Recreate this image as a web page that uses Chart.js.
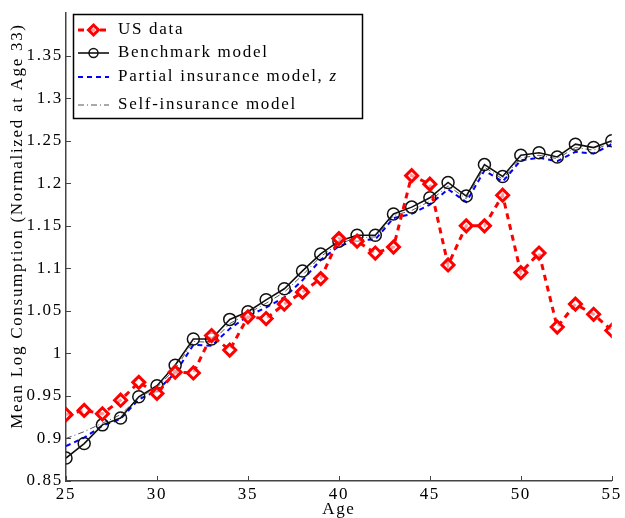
<!DOCTYPE html>
<html>
<head>
<meta charset="utf-8">
<script src="https://cdn.jsdelivr.net/npm/chart.js@4.4.1/dist/chart.umd.min.js"></script>
<style>
html,body{margin:0;padding:0;background:#fff;}
#wrap{width:625px;height:518px;position:relative;}
</style>
</head>
<body>
<div id="wrap"><canvas id="c" width="625" height="518"></canvas></div>
<script>
const ages = [25,26,27,28,29,30,31,32,33,34,35,36,37,38,39,40,41,42,43,44,45,46,47,48,49,50,51,52,53,54,55];
const usData = [0.928,0.933,0.929,0.945,0.966,0.953,0.978,0.977,1.021,1.004,1.043,1.041,1.058,1.072,1.088,1.135,1.132,1.118,1.125,1.209,1.199,1.104,1.150,1.150,1.186,1.095,1.118,1.031,1.058,1.046,1.027];
const benchmark = [0.877,0.894,0.916,0.924,0.949,0.962,0.986,1.017,1.017,1.040,1.049,1.063,1.076,1.097,1.117,1.132,1.139,1.139,1.164,1.172,1.183,1.201,1.185,1.222,1.208,1.233,1.236,1.231,1.246,1.242,1.250];
const partialIns = [0.891,0.901,0.915,0.923,0.946,0.956,0.977,1.010,1.009,1.029,1.044,1.054,1.066,1.086,1.110,1.126,1.133,1.134,1.159,1.164,1.175,1.193,1.178,1.215,1.202,1.227,1.230,1.226,1.237,1.235,1.246];
const selfIns = [0.900,0.908,0.918,0.928,0.948,0.960,0.982,1.014,1.013,1.035,1.047,1.059,1.072,1.092,1.114,1.129,1.136,1.137,1.162,1.168,1.179,1.197,1.182,1.219,1.205,1.230,1.233,1.229,1.242,1.239,1.248];
const seriesNames = ["US data","Benchmark model","Partial insurance model, z","Self-insurance model"];
const xTicks = [25,30,35,40,45,50,55];
const yTicks = [0.85,0.9,0.95,1,1.05,1.1,1.15,1.2,1.25,1.3,1.35];
const xTitle = "Age";
const yTitle = "Mean Log Consumption (Normalized at Age 33)";

const FONT = "'Liberation Serif', 'DejaVu Serif', serif";
const FS = 17;
const SPACING = '1.7px';
const AXIS = '#444';
const pts = arr => ages.map((a,i)=>({x:a,y:arr[i]}));

const spacing = {
  id:'spacing',
  beforeLayout(chart){ chart.ctx.letterSpacing = SPACING; },
  beforeDraw(chart){ chart.ctx.letterSpacing = SPACING; }
};

const insideTicks = {
  id:'insideTicks',
  afterDraw(chart){
    const ctx = chart.ctx, xs = chart.scales.x, ys = chart.scales.y, ca = chart.chartArea;
    ctx.save();
    ctx.strokeStyle = AXIS; ctx.lineWidth = 1;
    xTicks.forEach(v=>{ const px = Math.round(xs.getPixelForValue(v))+0.5; ctx.beginPath(); ctx.moveTo(px,ca.bottom); ctx.lineTo(px,ca.bottom-5); ctx.stroke(); });
    yTicks.forEach(v=>{ const py = Math.round(ys.getPixelForValue(v))+0.5; ctx.beginPath(); ctx.moveTo(ca.left,py); ctx.lineTo(ca.left+5,py); ctx.stroke(); });
    // y axis title
    ctx.fillStyle = '#000';
    ctx.font = FS + "px " + FONT;
    ctx.textAlign = 'center'; ctx.textBaseline = 'middle';
    ctx.save();
    ctx.translate(18, 226);
    ctx.rotate(-Math.PI/2);
    ctx.fillText(yTitle, 0, 0);
    ctx.restore();
    ctx.fillText(xTitle, (ca.left+ca.right)/2, 510);
    ctx.restore();
  }
};

const legendBox = {
  id:'legendBox',
  afterDraw(chart){
    const ctx = chart.ctx;
    const bx = 73.5, by = 14.5, bw = 289, bh = 104;
    ctx.save();
    ctx.fillStyle = '#fff'; ctx.fillRect(bx,by,bw,bh);
    ctx.strokeStyle = '#000'; ctx.lineWidth = 1.5; ctx.strokeRect(bx,by,bw,bh);
    const rows = [30,53,77,105];
    ctx.font = FS + "px " + FONT; ctx.textBaseline = 'middle'; ctx.textAlign = 'left';
    chart.data.datasets.forEach((ds,i)=>{
      const y = rows[i];
      ctx.save();
      ctx.strokeStyle = ds.borderColor; ctx.lineWidth = ds.borderWidth;
      ctx.setLineDash(ds.borderDash || []);
      ctx.beginPath(); ctx.moveTo(78,y); ctx.lineTo(109,y); ctx.stroke();
      ctx.setLineDash([]);
      if (ds.pointRadius > 0) {
        ctx.strokeStyle = ds.pointBorderColor; ctx.lineWidth = ds.pointBorderWidth;
        ctx.fillStyle = ds.pointBackgroundColor;
        ctx.beginPath();
        if (ds.pointStyle === 'circle') { ctx.arc(93.5,y,ds.pointRadius-1.5,0,Math.PI*2); }
        else { const r = ds.pointRadius-1; ctx.moveTo(93.5,y-r); ctx.lineTo(93.5+r,y); ctx.lineTo(93.5,y+r); ctx.lineTo(93.5-r,y); ctx.closePath(); }
        ctx.fill(); ctx.stroke();
      }
      ctx.restore();
      ctx.fillStyle = '#000';
      if (i === 2) {
        const base = "Partial insurance model, ";
        ctx.fillText(base, 118, y);
        const w = ctx.measureText(base).width;
        ctx.font = "italic " + FS + "px " + FONT;
        ctx.fillText("z", 118 + w, y);
        ctx.font = FS + "px " + FONT;
      } else {
        ctx.fillText(ds.label, 118, y);
      }
    });
    ctx.restore();
  }
};

new Chart(document.getElementById('c'), {
  type:'line',
  data:{
    datasets:[
      {label:seriesNames[0], data:pts(usData), borderColor:'#ff0000', borderWidth:3, borderDash:[6,5],
       pointStyle:'rectRot', pointRadius:6, pointBorderColor:'#ff0000', pointBackgroundColor:'rgba(255,255,255,0.6)', pointBorderWidth:3},
      {label:seriesNames[1], data:pts(benchmark), borderColor:'#111', borderWidth:1.6,
       pointStyle:'circle', pointRadius:6, pointBorderColor:'#111', pointBackgroundColor:'rgba(0,0,0,0)', pointBorderWidth:1.5},
      {label:seriesNames[2], data:pts(partialIns), borderColor:'#0000ff', borderWidth:2, borderDash:[5,4], pointRadius:0},
      {label:seriesNames[3], data:pts(selfIns), borderColor:'#555', borderWidth:1, borderDash:[6,3,1,3], pointRadius:0}
    ]
  },
  options:{
    responsive:false, animation:false,
    layout:{padding:{top:7,right:7,left:0,bottom:0}},
    plugins:{legend:{display:false}, tooltip:{enabled:false}},
    elements:{line:{tension:0}},
    scales:{
      x:{type:'linear', min:25, max:55,
         afterFit(s){ s.height = 37; },
         afterBuildTicks(s){ s.ticks = xTicks.map(v=>({value:v})); },
         grid:{display:false, drawTicks:false},
         border:{display:true, color:AXIS, width:1.5},
         ticks:{font:{family:FONT,size:FS}, color:'#000', padding:3, maxRotation:0}
      },
      y:{type:'linear', min:0.85, max:1.4,
         afterFit(s){ s.width = 66; },
         afterBuildTicks(s){ s.ticks = yTicks.map(v=>({value:v})); },
         grid:{display:false, drawTicks:false},
         border:{display:true, color:AXIS, width:1.5},
         ticks:{font:{family:FONT,size:FS}, color:'#000', padding:3, callback:v=>String(Math.round(v*100)/100)}
      }
    }
  },
  plugins:[spacing, insideTicks, legendBox]
});
</script>
</body>
</html>
